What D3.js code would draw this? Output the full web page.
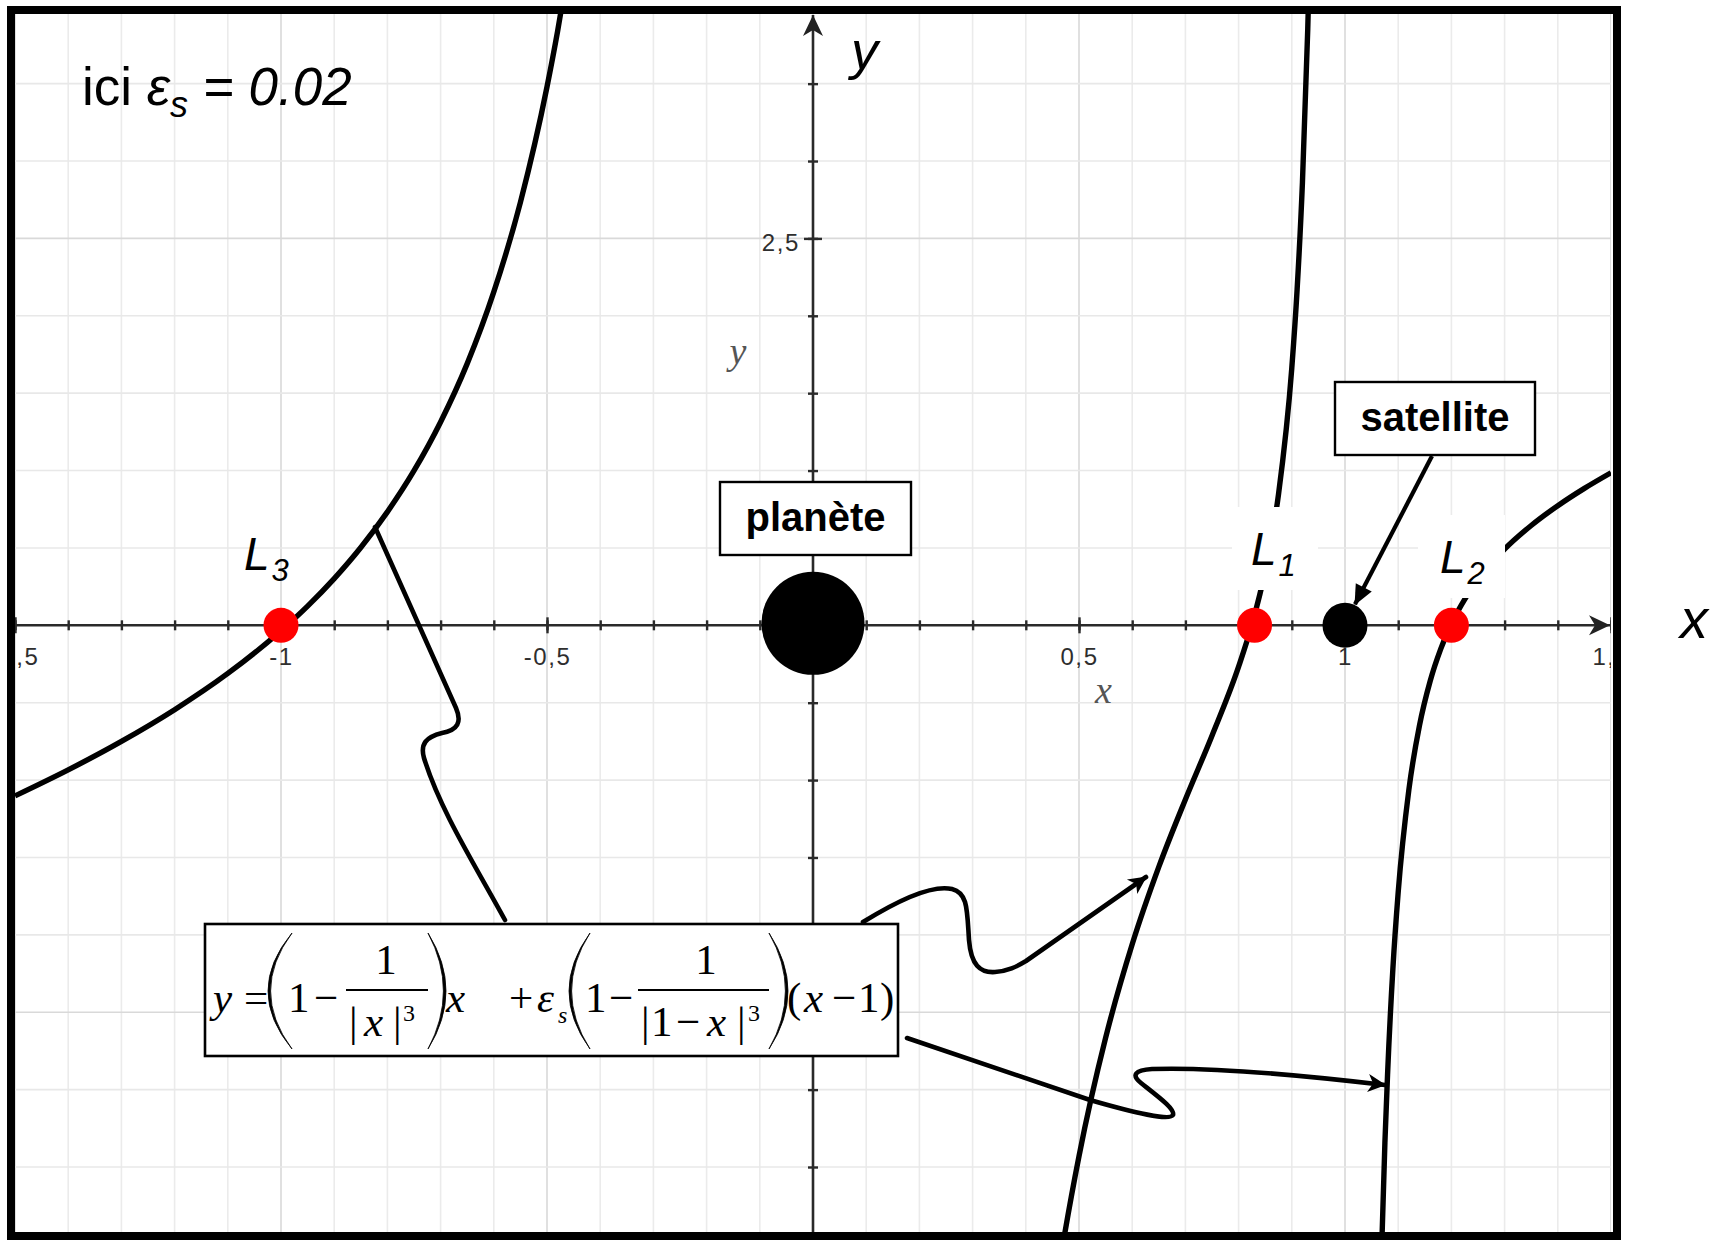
<!DOCTYPE html>
<html>
<head>
<meta charset="utf-8">
<script src="https://cdn.jsdelivr.net/npm/d3@7"></script>
<style>
  html, body { margin: 0; padding: 0; background: #ffffff; }
  svg { display: block; }
</style>
</head>
<body>
<svg id="chart" width="1710" height="1240"></svg>
<script>
// ---------- data ----------
// Branch left of the planet (x < 0)
const leftBranchX = [-1.5, -1.4, -1.3, -1.2, -1.1, -1.0, -0.95, -0.9, -0.85, -0.8, -0.75, -0.7, -0.65, -0.6, -0.55, -0.5, -0.48, -0.46];
const leftBranchY = [-1.102, -0.934, -0.750, -0.545, -0.311, -0.035, 0.124, 0.302, 0.503, 0.733, 0.999, 1.314, 1.691, 2.154, 2.733, 3.479, 3.840, 4.246];

// Branch between planet and satellite (0 < x < 1)
const midBranchX = [0.45, 0.47, 0.5, 0.55, 0.6, 0.65, 0.7, 0.75, 0.8, 0.825, 0.85, 0.875, 0.9, 0.91, 0.92, 0.93, 0.935];
const midBranchY = [-4.433, -3.996, -3.430, -2.666, -2.061, -1.561, -1.125, -0.713, -0.267, 0.005, 0.352, 0.846, 1.663, 2.170, 2.862, 3.854, 4.523];

// Branch beyond the satellite (x > 1)
const rightBranchX = [1.068, 1.075, 1.08, 1.09, 1.1, 1.12, 1.14, 1.16, 1.18, 1.2, 1.225, 1.25, 1.3, 1.35, 1.4, 1.45, 1.5];
const rightBranchY = [-4.133, -3.344, -2.901, -2.219, -1.724, -1.064, -0.647, -0.361, -0.152, 0.010, 0.168, 0.295, 0.492, 0.645, 0.773, 0.885, 0.986];

// Lagrange points on the axis
const lagrangeNames = ["3", "1", "2"];
const lagrangeX = [-1.0, 0.83, 1.20];

// Bodies
const planetX = 0;
const satelliteX = 1.0;
const epsilonLabel = "0.02";

// Axis ticks and labels
const xMinorTicks = d3.range(-15, 16).map(i => i / 10);
const xMajorTicks = [-1.5, -1, -0.5, 0, 0.5, 1, 1.5];
const xTickLabels = ["-1,5", "-1", "-0,5", "0", "0,5", "1", "1,5"];
const yMinorTicks = d3.range(-7, 8).map(i => i / 2);
const yMajorTicks = [-2.5, 2.5];
const yLabelTicks = [2.5];
const yTickLabels = ["2,5"];

// ---------- layout ----------
const PL = 15, PR = 1611, PT = 14, PB = 1232;
const svg = d3.select("#chart");
const x = d3.scaleLinear().domain([-1.5, 1.5]).range([PL, PR]);
const y = d3.scaleLinear().domain([-3.92, 3.95]).range([PB, PT]);

const defs = svg.append("defs");
defs.append("clipPath").attr("id", "plotClip")
  .append("rect").attr("x", PL).attr("y", PT).attr("width", PR - PL).attr("height", PB - PT);

defs.append("marker").attr("id", "axisArrow")
  .attr("markerUnits", "userSpaceOnUse").attr("viewBox", "-22 -12 24 24")
  .attr("markerWidth", 24).attr("markerHeight", 24).attr("refX", 0).attr("refY", 0)
  .attr("orient", "auto")
  .append("path").attr("d", "M0,0 L-21,-10 L-15,0 L-21,10 Z").attr("fill", "#222");

defs.append("marker").attr("id", "calloutArrow")
  .attr("markerUnits", "userSpaceOnUse").attr("viewBox", "-20 -10 22 20")
  .attr("markerWidth", 22).attr("markerHeight", 20).attr("refX", 0).attr("refY", 0)
  .attr("orient", "auto")
  .append("path").attr("d", "M1,0 L-17,-9 L-12,0 L-17,9 Z").attr("fill", "#000");

defs.append("marker").attr("id", "solidArrow")
  .attr("markerUnits", "userSpaceOnUse").attr("viewBox", "-22 -11 24 22")
  .attr("markerWidth", 24).attr("markerHeight", 22).attr("refX", 0).attr("refY", 0)
  .attr("orient", "auto")
  .append("path").attr("d", "M1,0 L-19,-9 L-19,9 Z").attr("fill", "#000");

// ---------- grid ----------
const grid = svg.append("g").attr("clip-path", "url(#plotClip)");
const isHalf = v => Math.abs(v * 2 - Math.round(v * 2)) < 1e-9;
grid.selectAll("line.gv").data(xMinorTicks).join("line")
  .attr("x1", d => x(d)).attr("x2", d => x(d)).attr("y1", PT).attr("y2", PB)
  .attr("stroke", d => isHalf(d) ? "#d9d9d9" : "#ebebeb").attr("stroke-width", 1.6);
grid.selectAll("line.gh").data(yMinorTicks).join("line")
  .attr("y1", d => y(d)).attr("y2", d => y(d)).attr("x1", PL).attr("x2", PR)
  .attr("stroke", d => (Math.abs(d % 2.5) < 1e-9) ? "#d9d9d9" : "#e8e8e8").attr("stroke-width", 1.6);

// ---------- axes ----------
const axes = svg.append("g").attr("clip-path", "url(#plotClip)");
const y0 = y(0), x0 = x(0);

function bothSides(g) {
  g.select(".domain").remove();
  g.selectAll(".tick line").attr("stroke", "#2a2a2a").attr("stroke-width", 2.4);
  return g;
}

// x axis ticks (minor then major)
const xMinorAxis = axes.append("g").attr("transform", `translate(0,${y0})`)
  .call(d3.axisBottom(x).tickValues(xMinorTicks).tickSize(5).tickFormat(""));
bothSides(xMinorAxis).selectAll(".tick line").attr("y1", -5);
const xMajorAxis = axes.append("g").attr("transform", `translate(0,${y0})`)
  .call(d3.axisBottom(x).tickValues(xMajorTicks).tickSize(8).tickFormat(""));
bothSides(xMajorAxis).selectAll(".tick line").attr("y1", -8);

// y axis ticks
const yMinorAxis = axes.append("g").attr("transform", `translate(${x0},0)`)
  .call(d3.axisLeft(y).tickValues(yMinorTicks).tickSize(5).tickFormat(""));
bothSides(yMinorAxis).selectAll(".tick line").attr("x1", 5);
const yMajorAxis = axes.append("g").attr("transform", `translate(${x0},0)`)
  .call(d3.axisLeft(y).tickValues(yMajorTicks).tickSize(9).tickFormat(""));
bothSides(yMajorAxis).selectAll(".tick line").attr("x1", 9);

// axis lines with arrows
axes.append("line").attr("x1", PL).attr("x2", PR - 1).attr("y1", y0).attr("y2", y0)
  .attr("stroke", "#2a2a2a").attr("stroke-width", 2.6).attr("marker-end", "url(#axisArrow)");
axes.append("line").attr("x1", x0).attr("x2", x0).attr("y1", PB).attr("y2", PT + 1)
  .attr("stroke", "#2a2a2a").attr("stroke-width", 2.6).attr("marker-end", "url(#axisArrow)");

// tick labels
const tickFont = "Liberation Sans, Arial, sans-serif";
const xLabelAxis = axes.append("g").attr("transform", `translate(0,${y0})`)
  .call(d3.axisBottom(x).tickValues(xMajorTicks).tickSize(0).tickPadding(23)
    .tickFormat((d, i) => xTickLabels[i]));
xLabelAxis.select(".domain").remove();
xLabelAxis.selectAll("text").attr("font-family", tickFont)
  .attr("font-size", 24).attr("fill", "#2e2e2e").attr("letter-spacing", 1.6);

const yLabelAxis = axes.append("g").attr("transform", `translate(${x0},0)`)
  .call(d3.axisLeft(y).tickValues(yLabelTicks).tickSize(0).tickPadding(13)
    .tickFormat((d, i) => yTickLabels[i]));
yLabelAxis.select(".domain").remove();
yLabelAxis.selectAll("text").attr("font-family", tickFont)
  .attr("font-size", 24).attr("fill", "#2e2e2e").attr("letter-spacing", 1.6)
  .attr("dy", "0.5em");

// axis names drawn by the plotter (serif italic, grey)
axes.append("text").attr("x", x(0.53)).attr("y", y(-0.5)).text("x")
  .attr("font-family", "Liberation Serif, Times New Roman, serif").attr("font-style", "italic")
  .attr("font-size", 38).attr("fill", "#555");
axes.append("text").attr("x", x(-0.157)).attr("y", y(1.69)).text("y")
  .attr("font-family", "Liberation Serif, Times New Roman, serif").attr("font-style", "italic")
  .attr("font-size", 38).attr("fill", "#555");

// ---------- curves ----------
const line = d3.line().x(d => x(d[0])).y(d => y(d[1])).curve(d3.curveMonotoneX);
const branches = [
  d3.zip(leftBranchX, leftBranchY),
  d3.zip(midBranchX, midBranchY),
  d3.zip(rightBranchX, rightBranchY)
];
svg.append("g").attr("clip-path", "url(#plotClip)")
  .selectAll("path").data(branches).join("path")
  .attr("d", line).attr("fill", "none").attr("stroke", "#000").attr("stroke-width", 5.4)
  .attr("stroke-linejoin", "round");

// ---------- Lagrange labels ----------
const labelFont = "Liberation Sans, Arial, Helvetica, sans-serif";
// white patches behind L1 and L2
const patches = [
  { x: 1232, y: 507, w: 86, h: 83 },
  { x: 1418, y: 515, w: 87, h: 83 }
];
svg.selectAll("rect.patch").data(patches).join("rect")
  .attr("x", d => d.x).attr("y", d => d.y).attr("width", d => d.w).attr("height", d => d.h)
  .attr("fill", "#fff");

const lPos = [
  { lx: 244, by: 570 },
  { lx: 1251, by: 565 },
  { lx: 1440, by: 573 }
];
lagrangeNames.forEach((n, i) => {
  const t = svg.append("text").attr("x", lPos[i].lx).attr("y", lPos[i].by)
    .attr("font-family", labelFont).attr("font-style", "italic").attr("font-size", 46).attr("fill", "#000");
  t.append("tspan").text("L");
  t.append("tspan").attr("dy", 11).attr("dx", 2).attr("font-size", 31).text(n);
});

// ---------- points ----------
svg.selectAll("circle.lagrange").data(lagrangeX).join("circle")
  .attr("cx", d => x(d)).attr("cy", y(0)).attr("r", 17.5).attr("fill", "#ff0000");

svg.append("circle").attr("cx", x(satelliteX)).attr("cy", y(0)).attr("r", 22.5).attr("fill", "#000");
svg.append("circle").attr("cx", x(planetX)).attr("cy", y(0) - 2).attr("r", 51.5).attr("fill", "#000");

// ---------- name boxes ----------
const boxes = [
  { text: "planète", x: 720, y: 482, w: 191, h: 73 },
  { text: "satellite", x: 1335, y: 382, w: 200, h: 73 }
];
const bg = svg.selectAll("g.namebox").data(boxes).join("g");
bg.append("rect").attr("x", d => d.x).attr("y", d => d.y).attr("width", d => d.w).attr("height", d => d.h)
  .attr("fill", "#fff").attr("stroke", "#000").attr("stroke-width", 2.4);
bg.append("text").attr("x", d => d.x + d.w / 2).attr("y", d => d.y + 49).attr("text-anchor", "middle")
  .attr("font-family", labelFont).attr("font-weight", "bold").attr("font-size", 40).text(d => d.text);

// satellite pointer
svg.append("line").attr("x1", 1432).attr("y1", 456).attr("x2", x(satelliteX) + 10).attr("y2", y(0) - 21)
  .attr("stroke", "#000").attr("stroke-width", 4.2).attr("marker-end", "url(#solidArrow)");

// ---------- callouts from the formula ----------
const callouts = [
  { d: "M375,527 L456,708 C462,722 458,730 442,733 C426,737 420,744 424,758 C440,810 475,865 505,920", arrow: false },
  { d: "M863,922 C905,896 935,885 952,889 C968,893 967,910 969,940 C971,965 980,973 995,972 C1008,971 1016,967 1026,961 L1146,877", arrow: true },
  { d: "M907,1038 L1090,1100 C1135,1113 1170,1121 1173,1115 C1175,1109 1160,1098 1141,1083 C1131,1075 1135,1070 1152,1069 C1210,1067 1300,1075 1385,1085", arrow: true }
];
svg.selectAll("path.callout").data(callouts).join("path")
  .attr("d", d => d.d).attr("fill", "none").attr("stroke", "#000").attr("stroke-width", 4.6)
  .attr("stroke-linecap", "round").attr("stroke-linejoin", "round")
  .attr("marker-end", d => d.arrow ? "url(#calloutArrow)" : null);

// ---------- formula box ----------
const fg = svg.append("g");
fg.append("rect").attr("x", 205).attr("y", 924).attr("width", 693).attr("height", 132)
  .attr("fill", "#fff").attr("stroke", "#000").attr("stroke-width", 2.6);

const serif = "Liberation Serif, Times New Roman, serif";
const glyphs = [
  { t: "y", x: 213, y: 1012, it: true },
  { t: "=", x: 244, y: 1012 },
  { t: "1", x: 288, y: 1012 },
  { t: "\u2212", x: 314, y: 1012 },
  { t: "1", x: 386, y: 974, mid: true },
  { t: "|", x: 349, y: 1036 },
  { t: "x", x: 364, y: 1036, it: true },
  { t: "|", x: 393, y: 1036 },
  { t: "3", x: 403, y: 1021, s: 24 },
  { t: "x", x: 446, y: 1012, it: true },
  { t: "+", x: 509, y: 1012 },
  { t: "\u03b5", x: 537, y: 1012, it: true },
  { t: "s", x: 558, y: 1023, it: true, s: 24 },
  { t: "1", x: 585, y: 1012 },
  { t: "\u2212", x: 609, y: 1012 },
  { t: "1", x: 706, y: 974, mid: true },
  { t: "|", x: 641, y: 1036 },
  { t: "1", x: 651, y: 1036 },
  { t: "\u2212", x: 676, y: 1036 },
  { t: "x", x: 707, y: 1036, it: true },
  { t: "|", x: 737, y: 1036 },
  { t: "3", x: 748, y: 1021, s: 24 },
  { t: "(", x: 787, y: 1012 },
  { t: "x", x: 804, y: 1012, it: true },
  { t: "\u2212", x: 832, y: 1012 },
  { t: "1", x: 858, y: 1012 },
  { t: ")", x: 880, y: 1012 }
];
fg.selectAll("text.g").data(glyphs).join("text")
  .attr("x", d => d.x).attr("y", d => d.y)
  .attr("text-anchor", d => d.mid ? "middle" : "start")
  .attr("font-family", serif).attr("font-size", d => d.s || 43)
  .attr("font-style", d => d.it ? "italic" : "normal").attr("fill", "#000")
  .text(d => d.t);

// fraction bars
[[346, 428], [638, 769]].forEach(b => {
  fg.append("line").attr("x1", b[0]).attr("x2", b[1]).attr("y1", 990).attr("y2", 990)
    .attr("stroke", "#000").attr("stroke-width", 1.9);
});

// tall parentheses
function paren(xEnd, xBulge, top, bot) {
  const ym = (top + bot) / 2;
  const c1 = 2 * xBulge - xEnd;
  const th = xBulge < xEnd ? 2.6 : -2.6;
  const c2 = 2 * (xBulge + th) - xEnd;
  return `M${xEnd},${top} Q${c1},${ym} ${xEnd},${bot} Q${c2},${ym} ${xEnd},${top} Z`;
}
[[292, 268], [428, 446], [590, 569], [769, 788]].forEach(p => {
  fg.append("path").attr("d", paren(p[0], p[1], 933, 1049))
    .attr("fill", "#000").attr("stroke", "#000").attr("stroke-width", 0.8);
});

// ---------- note ----------
const note = svg.append("text").attr("x", 82).attr("y", 105)
  .attr("font-family", labelFont).attr("font-size", 53).attr("fill", "#000");
note.append("tspan").text("ici ");
note.append("tspan").attr("font-style", "italic").text("\u03b5");
note.append("tspan").attr("font-style", "italic").attr("font-size", 36).attr("dy", 12).text("s");
note.append("tspan").attr("font-style", "italic").attr("dy", -12).text(" = " + epsilonLabel);

// ---------- frame ----------
svg.append("rect").attr("x", 11).attr("y", 10).attr("width", 1606).attr("height", 1226)
  .attr("fill", "none").attr("stroke", "#000").attr("stroke-width", 8);

// big axis names
svg.append("text").attr("x", 1680).attr("y", 638).text("x")
  .attr("font-family", labelFont).attr("font-style", "italic").attr("font-size", 56).attr("fill", "#000");
svg.append("text").attr("x", 851).attr("y", 69).text("y")
  .attr("font-family", labelFont).attr("font-style", "italic").attr("font-size", 54).attr("fill", "#000");
</script>
</body>
</html>
